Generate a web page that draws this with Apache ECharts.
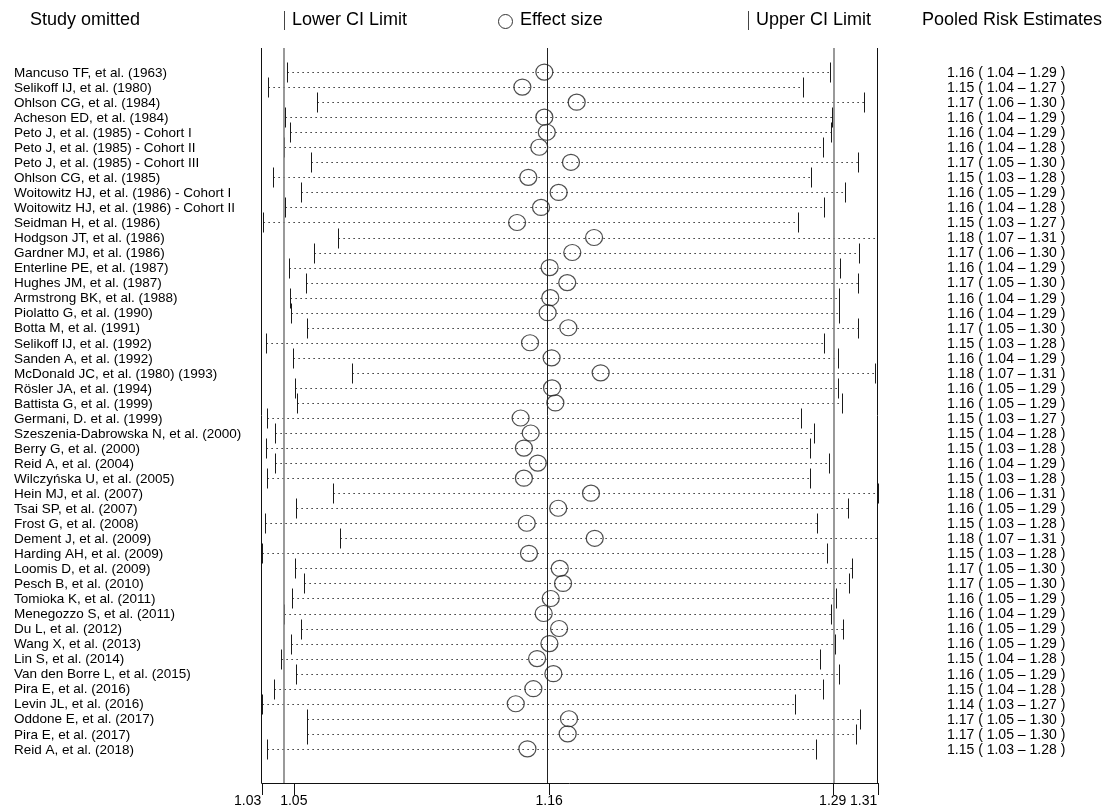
<!DOCTYPE html>
<html>
<head>
<meta charset="utf-8">
<script src="https://cdn.jsdelivr.net/npm/echarts@6/dist/echarts.min.js"></script>
<style>
  html, body { margin: 0; padding: 0; background: #fff; }
  #chart { width: 1108px; height: 807px; }
</style>
</head>
<body>
<div id="chart"></div>
<script>
// study left out in each run
var studies = [
    'Mancuso TF, et al. (1963)', 'Selikoff IJ, et al. (1980)', 'Ohlson CG, et al. (1984)',
    'Acheson ED, et al. (1984)', 'Peto J, et al. (1985) - Cohort I', 'Peto J, et al. (1985) - Cohort II',
    'Peto J, et al. (1985) - Cohort III', 'Ohlson CG, et al. (1985)', 'Woitowitz HJ, et al. (1986) - Cohort I',
    'Woitowitz HJ, et al. (1986) - Cohort II', 'Seidman H, et al. (1986)', 'Hodgson JT, et al. (1986)',
    'Gardner MJ, et al. (1986)', 'Enterline PE, et al. (1987)', 'Hughes JM, et al. (1987)',
    'Armstrong BK, et al. (1988)', 'Piolatto G, et al. (1990)', 'Botta M, et al. (1991)',
    'Selikoff IJ, et al. (1992)', 'Sanden A, et al. (1992)', 'McDonald JC, et al. (1980) (1993)',
    'Rösler JA, et al. (1994)', 'Battista G, et al. (1999)', 'Germani, D. et al. (1999)',
    'Szeszenia-Dabrowska N, et al. (2000)', 'Berry G, et al. (2000)', 'Reid A, et al. (2004)',
    'Wilczyńska U, et al. (2005)', 'Hein MJ, et al. (2007)', 'Tsai SP, et al. (2007)',
    'Frost G, et al. (2008)', 'Dement J, et al. (2009)', 'Harding AH, et al. (2009)',
    'Loomis D, et al. (2009)', 'Pesch B, et al. (2010)', 'Tomioka K, et al. (2011)',
    'Menegozzo S, et al. (2011)', 'Du L, et al. (2012)', 'Wang X, et al. (2013)',
    'Lin S, et al. (2014)', 'Van den Borre L, et al. (2015)', 'Pira E, et al. (2016)',
    'Levin JL, et al. (2016)', 'Oddone E, et al. (2017)', 'Pira E, et al. (2017)',
    'Reid A, et al. (2018)'
];

// positions as drawn in the plot
var lower = [1.0416, 1.0330, 1.0550, 1.0407, 1.0427, 1.0400, 1.0523, 1.0350, 1.0477, 1.0407,
    1.0307, 1.0648, 1.0536, 1.0423, 1.0500, 1.0430, 1.0432, 1.0505, 1.0320, 1.0444,
    1.0709, 1.0451, 1.0462, 1.0325, 1.0360, 1.0318, 1.0360, 1.0323, 1.0624, 1.0457,
    1.0314, 1.0656, 1.0300, 1.0453, 1.0494, 1.0439, 1.0403, 1.0480, 1.0435, 1.0388,
    1.0457, 1.0357, 1.0301, 1.0505, 1.0507, 1.0325];
var effect = [1.1585, 1.1485, 1.1732, 1.1585, 1.1596, 1.1562, 1.1706, 1.1512, 1.1650, 1.1570,
    1.1461, 1.1811, 1.1712, 1.1609, 1.1689, 1.1612, 1.1600, 1.1694, 1.1520, 1.1618,
    1.1841, 1.1620, 1.1635, 1.1477, 1.1523, 1.1492, 1.1555, 1.1492, 1.1797, 1.1648,
    1.1505, 1.1814, 1.1515, 1.1655, 1.1670, 1.1614, 1.1582, 1.1652, 1.1608, 1.1552,
    1.1626, 1.1535, 1.1455, 1.1697, 1.1691, 1.1508];
var upper = [1.2883, 1.2761, 1.3039, 1.2891, 1.2889, 1.2850, 1.3011, 1.2795, 1.2950, 1.2856,
    1.2736, 1.3096, 1.3017, 1.2927, 1.3009, 1.2925, 1.2925, 1.3009, 1.2858, 1.2921,
    1.3088, 1.2921, 1.2937, 1.2752, 1.2813, 1.2791, 1.2878, 1.2791, 1.3100, 1.2965,
    1.2824, 1.3097, 1.2872, 1.2984, 1.2971, 1.2911, 1.2889, 1.2943, 1.2906, 1.2837,
    1.2926, 1.2850, 1.2726, 1.3022, 1.3002, 1.2819];

// printed pooled estimates
var pooledEst = [1.16, 1.15, 1.17, 1.16, 1.16, 1.16, 1.17, 1.15, 1.16, 1.16,
    1.15, 1.18, 1.17, 1.16, 1.17, 1.16, 1.16, 1.17, 1.15, 1.16,
    1.18, 1.16, 1.16, 1.15, 1.15, 1.15, 1.16, 1.15, 1.18, 1.16,
    1.15, 1.18, 1.15, 1.17, 1.17, 1.16, 1.16, 1.16, 1.16, 1.15,
    1.16, 1.15, 1.14, 1.17, 1.17, 1.15];
var pooledLo = [1.04, 1.04, 1.06, 1.04, 1.04, 1.04, 1.05, 1.03, 1.05, 1.04,
    1.03, 1.07, 1.06, 1.04, 1.05, 1.04, 1.04, 1.05, 1.03, 1.04,
    1.07, 1.05, 1.05, 1.03, 1.04, 1.03, 1.04, 1.03, 1.06, 1.05,
    1.03, 1.07, 1.03, 1.05, 1.05, 1.05, 1.04, 1.05, 1.05, 1.04,
    1.05, 1.04, 1.03, 1.05, 1.05, 1.03];
var pooledHi = [1.29, 1.27, 1.30, 1.29, 1.29, 1.28, 1.30, 1.28, 1.29, 1.28,
    1.27, 1.31, 1.30, 1.29, 1.30, 1.29, 1.29, 1.30, 1.28, 1.29,
    1.31, 1.29, 1.29, 1.27, 1.28, 1.28, 1.29, 1.28, 1.31, 1.29,
    1.28, 1.31, 1.28, 1.30, 1.30, 1.29, 1.29, 1.29, 1.29, 1.28,
    1.29, 1.28, 1.27, 1.30, 1.30, 1.28];

// reference lines and their tick labels
var refValues = [1.03, 1.0446, 1.1607, 1.2896, 1.31];
var refLabels = ['1.03', '1.05', '1.16', '1.29', '1.31'];

var FONT = '"Liberation Sans", Arial, sans-serif';
var INK = '#1a1a1a';
var Y_MAX = 47.27;

var rowData = studies.map(function (s, i) {
    return [i, lower[i], effect[i], upper[i]];
});
var effectData = studies.map(function (s, i) {
    return [effect[i], i];
});
var textData = studies.map(function (s, i) {
    return [effect[i], i];
});
var tickData = refValues.map(function (v) {
    return [v, Y_MAX];
});

// snap to pixel centres so 1px strokes stay crisp
var crisp = function (v) {
    return Math.round(v) + 0.5;
};

var renderRow = function (params, api) {
    var i = api.value(0);
    var pLo = api.coord([api.value(1), i]);
    var pHi = api.coord([api.value(3), i]);
    var y = crisp(pLo[1]);
    var xLo = crisp(pLo[0]);
    var xHi = crisp(pHi[0]);
    return {
        type: 'group',
        children: [
            {type: 'line', shape: {x1: xLo, y1: y, x2: xHi, y2: y},
                style: {stroke: '#000', lineWidth: 1.2, lineDash: [1.2, 3.8]}},
            {type: 'line', shape: {x1: xLo, y1: y - 10, x2: xLo, y2: y + 10},
                style: {stroke: INK, lineWidth: 1}},
            {type: 'line', shape: {x1: xHi, y1: y - 10, x2: xHi, y2: y + 10},
                style: {stroke: INK, lineWidth: 1}}
        ]
    };
};

// tick marks hanging under the axis line
var renderTick = function (params, api) {
    var p = api.coord([api.value(0), api.value(1)]);
    var x = crisp(p[0]);
    return {
        type: 'line',
        shape: {x1: x, y1: p[1], x2: x, y2: p[1] + 12},
        style: {stroke: '#111', lineWidth: 1}
    };
};

var renderText = function (params, api) {
    var i = api.value(1);
    var p = api.coord([api.value(0), i]);
    var est = pooledEst[i].toFixed(2) + ' ( ' + pooledLo[i].toFixed(2) + ' \u2013 ' + pooledHi[i].toFixed(2) + ' )';
    return {
        type: 'group',
        children: [
            {type: 'text', x: 14, y: p[1] + 1,
                style: {text: studies[i], fill: '#000', fontSize: 13.5, fontFamily: FONT,
                    align: 'left', verticalAlign: 'middle'}},
            {type: 'text', x: 947, y: p[1] + 1,
                style: {text: est, fill: '#000', fontSize: 14, fontFamily: FONT,
                    align: 'left', verticalAlign: 'middle'}}
        ]
    };
};

var refLineStyle = function (v, i) {
    var edge = (i === 0 || i === refValues.length - 1);
    var mid = (i === 2);
    return {
        xAxis: v,
        lineStyle: {
            color: edge ? '#111' : (mid ? '#222' : '#808080'),
            width: edge || mid ? 1 : 1.6,
            type: 'solid'
        }
    };
};

var chart = echarts.init(document.getElementById('chart'));
var option = {
    animation: false,
    backgroundColor: '#fff',
    grid: {left: 261.7, right: 230.4, top: 48, bottom: 24, containLabel: false, outerBoundsMode: 'none'},
    xAxis: {
        type: 'value',
        position: 'bottom',
        min: 1.03,
        max: 1.31,
        splitLine: {show: false},
        axisLine: {show: true, onZero: false, lineStyle: {color: '#111', width: 1}},
        axisTick: {show: false},
        axisLabel: {
            customValues: refValues,
            margin: 11,
            color: '#000',
            fontSize: 14,
            fontFamily: FONT,
            showMinLabel: true,
            showMaxLabel: true,
            formatter: function (v) {
                var idx = refValues.indexOf(v);
                if (idx < 0) {
                    return '';
                }
                if (idx === 0 || idx === refValues.length - 1) {
                    return '{r|' + refLabels[idx] + '}';
                }
                return refLabels[idx];
            },
            rich: {
                r: {fontSize: 14, fontFamily: FONT, color: '#000', padding: [0, 28, 0, 0]}
            }
        }
    },
    yAxis: {
        type: 'value',
        inverse: true,
        min: -1.6,
        max: Y_MAX,
        show: false
    },
    graphic: [
        {type: 'text', left: 30, top: 11, style: {text: 'Study omitted', fontSize: 18, fontFamily: FONT, fill: '#000'}},
        {type: 'rect', left: 284, top: 11, shape: {width: 1, height: 19}, style: {fill: '#444'}},
        {type: 'text', left: 292, top: 11, style: {text: 'Lower CI Limit', fontSize: 18, fontFamily: FONT, fill: '#000'}},
        {type: 'circle', left: 496, top: 12, shape: {r: 7}, style: {fill: 'none', stroke: '#333', lineWidth: 1}},
        {type: 'text', left: 520, top: 11, style: {text: 'Effect size', fontSize: 18, fontFamily: FONT, fill: '#000'}},
        {type: 'rect', left: 748, top: 11, shape: {width: 1, height: 19}, style: {fill: '#444'}},
        {type: 'text', left: 756, top: 11, style: {text: 'Upper CI Limit', fontSize: 18, fontFamily: FONT, fill: '#000'}},
        {type: 'text', left: 922, top: 11, style: {text: 'Pooled Risk Estimates', fontSize: 18, fontFamily: FONT, fill: '#000'}}
    ],
    series: [
        {
            name: 'CI',
            type: 'custom',
            clip: false,
            silent: true,
            renderItem: renderRow,
            encode: {x: [1, 2, 3], y: 0},
            data: rowData,
            markLine: {
                silent: true,
                symbol: ['none', 'none'],
                label: {show: false},
                data: refValues.map(refLineStyle)
            }
        },
        {
            name: 'Effect size',
            type: 'scatter',
            symbol: 'circle',
            symbolSize: [17, 16],
            silent: true,
            itemStyle: {color: 'rgba(0,0,0,0)', borderColor: '#222', borderWidth: 1.2},
            data: effectData,
            z: 5
        },
        {
            name: 'axisTicks',
            type: 'custom',
            clip: false,
            silent: true,
            renderItem: renderTick,
            encode: {x: 0, y: 1},
            data: tickData
        },
        {
            name: 'labels',
            type: 'custom',
            clip: false,
            silent: true,
            renderItem: renderText,
            encode: {x: 0, y: 1},
            data: textData
        }
    ]
};
chart.setOption(option);
</script>
</body>
</html>
